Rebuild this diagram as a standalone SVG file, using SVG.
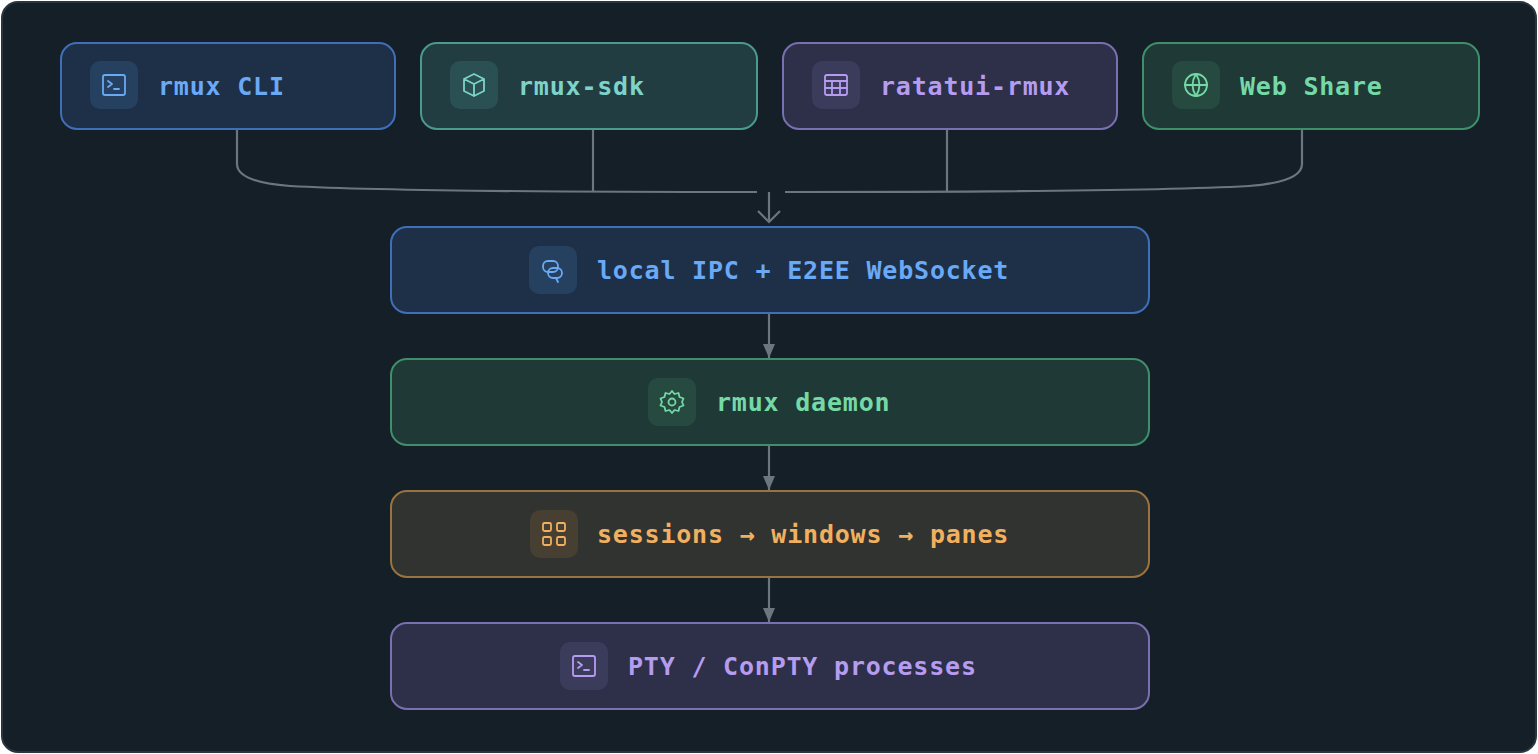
<svg xmlns="http://www.w3.org/2000/svg" width="1538" height="754" viewBox="0 0 1538 754">
<style>
text{font-family:"DejaVu Sans Mono","Liberation Mono",monospace;font-weight:bold;font-size:25px;letter-spacing:0.8px;dominant-baseline:central}
.c{fill:none;stroke:#6b7680;stroke-width:2.2}
.ic{fill:none;stroke-width:1.8;stroke-linecap:round;stroke-linejoin:round}
.b rect.n{fill:#1e3048;stroke:#3f6fb8}.b rect.i{fill:#26405f}.b text{fill:#6aa9f6}.b .ic{stroke:#6aa9f6}
.t rect.n{fill:#213d42;stroke:#4a9a90}.t rect.i{fill:#2a5053}.t text{fill:#7dd3c8}.t .ic{stroke:#7dd3c8}
.p rect.n{fill:#2d3048;stroke:#7a6fb0}.p rect.i{fill:#3b3c5c}.p text{fill:#b59cf0}.p .ic{stroke:#b59cf0}
.g rect.n{fill:#1f3a36;stroke:#3f8f6a}.g rect.i{fill:#264a40}.g text{fill:#74d9a6}.g .ic{stroke:#74d9a6}
.o rect.n{fill:#30332f;stroke:#9a7440}.o rect.i{fill:#463f32}.o text{fill:#f0b060}.o .ic{stroke:#f0b060}
rect.n{stroke-width:2}
</style>
<defs>
<marker id="tri" markerWidth="14" markerHeight="12" refX="14" refY="6" orient="auto" markerUnits="userSpaceOnUse"><path d="M0,0L14,6L0,12z" fill="#6b7680"/></marker>
</defs>
<rect x="2" y="2" width="1534" height="750" rx="16" fill="#141f27" stroke="#2a363f" stroke-width="2"/>
<g id="connectors">
<path class="c" d="M237,130V164Q237,182 290,186Q400,192 757,192"/>
<path class="c" d="M593,130V192"/>
<path class="c" d="M947,130V192"/>
<path class="c" d="M1302,130V164Q1302,182 1249,186Q1139,192 785,192"/>
<path class="c" d="M769,192V222M758,211L769,222L780,211"/>
<path class="c" d="M769,314V358" marker-end="url(#tri)"/>
<path class="c" d="M769,446V490" marker-end="url(#tri)"/>
<path class="c" d="M769,578V622" marker-end="url(#tri)"/>
</g>
<g id="cli" class="b"><rect class="n" x="61" y="43" width="334" height="86" rx="16"/><rect class="i" x="90" y="61" width="48" height="48" rx="10"/>
<g class="ic"><rect x="103" y="75" width="22" height="20" rx="2"/><path d="M108,81l4,3l-4,3M114,89h5"/></g><text x="158" y="86">rmux CLI</text></g>
<g id="sdk" class="t"><rect class="n" x="421" y="43" width="336" height="86" rx="16"/><rect class="i" x="450" y="61" width="48" height="48" rx="10"/>
<g class="ic"><path d="M474,74l10,5v12l-10,5l-10,-5v-12zM464,79l10,5l10,-5M474,84v12"/></g><text x="518" y="86">rmux-sdk</text></g>
<g id="ratatui" class="p"><rect class="n" x="783" y="43" width="334" height="86" rx="16"/><rect class="i" x="812" y="61" width="48" height="48" rx="10"/>
<g class="ic"><rect x="825" y="75" width="22" height="20" rx="2"/><path d="M825,81h22M825,88h22M832,81v14M840,81v14"/></g><text x="880" y="86">ratatui-rmux</text></g>
<g id="webshare" class="g"><rect class="n" x="1143" y="43" width="336" height="86" rx="16"/><rect class="i" x="1172" y="61" width="48" height="48" rx="10"/>
<g class="ic"><circle cx="1196" cy="85" r="11"/><path d="M1185,85h22M1196,74q-7,11 0,22q7,-11 0,-22"/></g><text x="1240" y="86">Web Share</text></g>
<g id="ipc" class="b"><rect class="n" x="391" y="227" width="758" height="86" rx="16"/><rect class="i" x="529" y="246" width="48" height="48" rx="10"/>
<g class="ic"><rect x="543" y="261" width="15" height="11" rx="5"/><rect x="548" y="268" width="14" height="10" rx="5"/><path d="M556,278l2,4"/></g><text x="597" y="270">local IPC + E2EE WebSocket</text></g>
<g id="daemon" class="g"><rect class="n" x="391" y="359" width="758" height="86" rx="16"/><rect class="i" x="648" y="378" width="48" height="48" rx="10"/>
<g class="ic"><circle cx="672" cy="402" r="3.5"/><path d="M672,391l2.5,3l4,-1l1,4l4,1.5l-1.5,3.5l1.5,3.5l-4,1.5l-1,4l-4,-1l-2.5,3l-2.5,-3l-4,1l-1,-4l-4,-1.5l1.5,-3.5l-1.5,-3.5l4,-1.5l1,-4l4,1z"/></g><text x="716" y="402">rmux daemon</text></g>
<g id="sessions" class="o"><rect class="n" x="391" y="491" width="758" height="86" rx="16"/><rect class="i" x="530" y="510" width="48" height="48" rx="10"/>
<g class="ic"><rect x="543" y="523" width="8" height="8" rx="1.5"/><rect x="557" y="523" width="8" height="8" rx="1.5"/><rect x="543" y="537" width="8" height="8" rx="1.5"/><rect x="557" y="537" width="8" height="8" rx="1.5"/></g><text x="597" y="534">sessions → windows → panes</text></g>
<g id="pty" class="p"><rect class="n" x="391" y="623" width="758" height="86" rx="16"/><rect class="i" x="560" y="642" width="48" height="48" rx="10"/>
<g class="ic"><rect x="573" y="656" width="22" height="20" rx="2"/><path d="M578,662l4,3l-4,3M584,670h5"/></g><text x="628" y="666">PTY / ConPTY processes</text></g>
</svg>
